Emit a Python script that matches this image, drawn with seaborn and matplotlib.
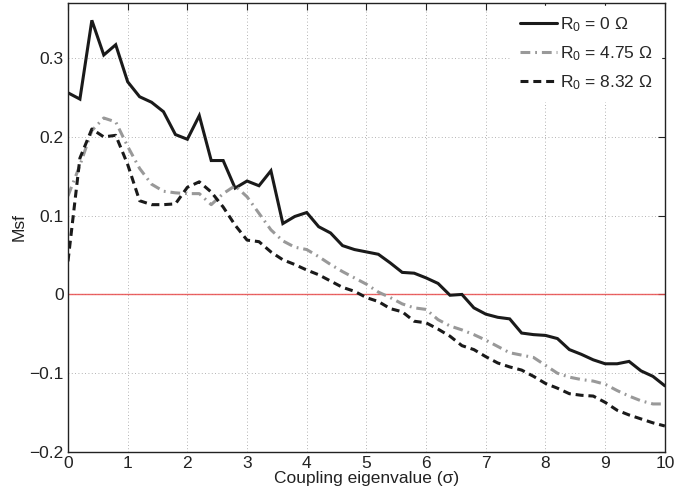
import numpy as np
import pandas as pd
import matplotlib
matplotlib.use("Agg")
import matplotlib.pyplot as plt
import seaborn as sns

sigma = np.round(np.arange(0, 10.0001, 0.2), 2)

msf_r0 = [0.256, 0.248, 0.348, 0.304, 0.317, 0.270, 0.251, 0.244, 0.232, 0.203,
          0.197, 0.227, 0.170, 0.170, 0.135, 0.144, 0.138, 0.157, 0.090, 0.099,
          0.104, 0.086, 0.078, 0.062, 0.057, 0.054, 0.051, 0.040, 0.028, 0.027,
          0.021, 0.014, -0.001, 0.000, -0.017, -0.025, -0.029, -0.031, -0.049, -0.051,
          -0.052, -0.056, -0.070, -0.076, -0.083, -0.088, -0.088, -0.085, -0.097, -0.104,
          -0.116]

msf_r475 = [0.125, 0.164, 0.208, 0.224, 0.219, 0.188, 0.160, 0.140, 0.131, 0.129,
            0.128, 0.128, 0.114, 0.128, 0.138, 0.124, 0.103, 0.082, 0.068, 0.060,
            0.057, 0.048, 0.038, 0.029, 0.021, 0.013, 0.003, -0.004, -0.012, -0.017,
            -0.019, -0.032, -0.040, -0.045, -0.051, -0.058, -0.066, -0.074, -0.077, -0.080,
            -0.090, -0.100, -0.105, -0.108, -0.110, -0.114, -0.122, -0.129, -0.135, -0.139,
            -0.139]

msf_r832 = [0.042, 0.173, 0.210, 0.200, 0.202, 0.165, 0.119, 0.114, 0.114, 0.115,
            0.136, 0.143, 0.130, 0.111, 0.088, 0.069, 0.067, 0.054, 0.044, 0.038,
            0.031, 0.025, 0.017, 0.009, 0.004, -0.004, -0.009, -0.018, -0.022, -0.034,
            -0.036, -0.044, -0.053, -0.065, -0.070, -0.079, -0.087, -0.092, -0.096, -0.104,
            -0.113, -0.119, -0.126, -0.128, -0.129, -0.137, -0.147, -0.153, -0.158, -0.163,
            -0.167]

labels = [r"R$_0$ = 0 Ω", r"R$_0$ = 4.75 Ω", r"R$_0$ = 8.32 Ω"]
x_ticks = [0, 1, 2, 3, 4, 5, 6, 7, 8, 9, 10]
y_ticks = [-0.2, -0.1, 0, 0.1, 0.2, 0.3]
y_tick_labels = ["\u22120.2", "\u22120.1", "0", "0.1", "0.2", "0.3"]

sns.set_style("white")
plt.rcParams["font.family"] = ["Liberation Sans", "DejaVu Sans"]
plt.rcParams["mathtext.fontset"] = "custom"
plt.rcParams["mathtext.rm"] = "Liberation Sans"
plt.rcParams["mathtext.it"] = "Liberation Sans"
plt.rcParams["mathtext.default"] = "regular"

fig = plt.figure(figsize=(6.75, 4.99), dpi=100)
ax = fig.add_axes([0.1007, 0.0942, 0.8843, 0.8998])

series = [msf_r0, msf_r475, msf_r832]
colors = ["#1a1a1a", "#999999", "#1a1a1a"]
dash_specs = [None, (3.2, 1.6, 0.6, 1.6), (2.6, 1.6)]
for vals, lab, col, dsh in zip(series, labels, colors, dash_specs):
    sns.lineplot(x=sigma, y=vals, ax=ax, color=col, linewidth=2.2, label=lab)
    line = ax.get_lines()[-1]
    if dsh is not None:
        line.set_dashes(dsh)
    line.set_solid_joinstyle("miter")

ax.axhline(0, color="#e84a4a", linewidth=1.0, alpha=0.85, zorder=1.5)

ax.set_xlim(0, 10)
ax.set_ylim(-0.2, 0.37)
ax.set_xticks(x_ticks)
ax.set_yticks(y_ticks)
ax.set_yticklabels(y_tick_labels)
ax.grid(True, linestyle=(0, (1, 3)), color="#9a9a9a", linewidth=0.6)
ax.tick_params(direction="in", length=5, width=0.8, top=True, right=True,
               labelsize=12.5, pad=3, colors="#222222")
ax.tick_params(axis="x", pad=3)
for s in ax.spines.values():
    s.set_color("#222222")
    s.set_linewidth(1.0)

ax.set_xlabel("Coupling eigenvalue (σ)", fontsize=12.5, labelpad=0, color="#222222")
ax.set_ylabel("Msf", fontsize=12.5, labelpad=2, color="#222222")

leg = ax.legend(loc="upper right", frameon=True, fontsize=12.5, handlelength=2.1,
                handletextpad=0.2, borderaxespad=0.3, labelspacing=0.6)
leg.get_frame().set_edgecolor("white")
leg.get_frame().set_facecolor("white")
leg.get_frame().set_alpha(1)
leg.get_frame().set_boxstyle("square", pad=0.1)

fig.savefig("out.png", dpi=100)
